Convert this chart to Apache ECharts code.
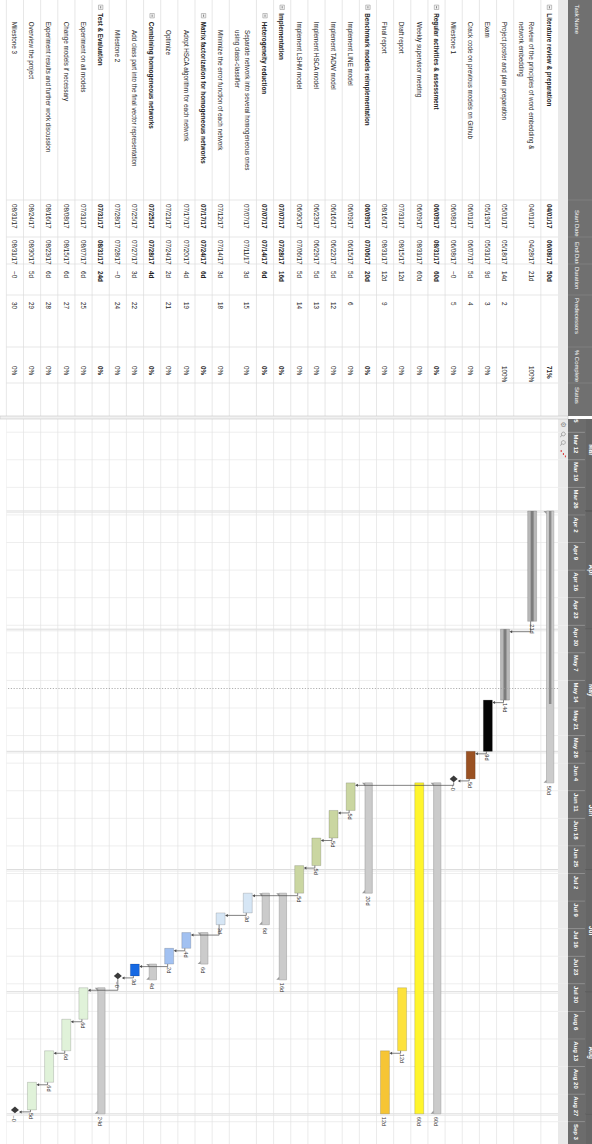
<!DOCTYPE html>
<html>
<head>
<meta charset="utf-8">
<script src="https://cdn.jsdelivr.net/npm/echarts@6/dist/echarts.min.js"></script>
<style>
  html, body { margin: 0; padding: 0; background: #fff; overflow: hidden; }
  #stage { position: absolute; left: 0; top: 0; width: 592px; height: 1144px; overflow: hidden; background: #fff; }
  /* the sheet is laid out landscape and turned a quarter clockwise */
  #chart { position: absolute; left: 0; top: 0; width: 1144px; height: 592px;
           transform-origin: 0 0; transform: translate(592px, 0) rotate(90deg); }
</style>
</head>
<body>
<div id="stage"><div id="chart"></div></div>
<script>
// ---------------- project data ----------------
const taskNames = [
  'Literature review & preparation',
  'Review of the principles of word embedding &\nnetwork embedding',
  'Project poster and plan preparation',
  'Exam',
  'Crack code on previous models on Github',
  'Milestone 1',
  'Regular activities & assessment',
  'Weekly supervisor meeting',
  'Draft report',
  'Final report',
  'Benchmark models reimplementation',
  'Implement LINE model',
  'Implement TADW model',
  'Implement HSCA model',
  'Implement LSHM model',
  'Implementation',
  'Heterogeneity reduction',
  'Separate network into several homogeneous ones\nusing class-classifier',
  'Minimize the error function of each network',
  'Matrix factorization for homogeneous networks',
  'Adopt HSCA algorithm for each network',
  'Optimize',
  'Combining homogeneous networks',
  'Add class part into the final vector representation',
  'Milestone 2',
  'Test & Evaluation',
  'Experiment on all models',
  'Change models if necessary',
  'Experiment results and further work discussion',
  'Overview the project',
  'Milestone 3'
];
const outlineLevels = [0,1,1,1,1,1,0,1,1,1,0,1,1,1,1,0,1,2,2,1,2,2,1,2,2,0,1,1,1,1,1];
const startDates = ['04/01/17','04/01/17','05/01/17','05/19/17','06/01/17','06/08/17','06/09/17','06/09/17','07/31/17','08/16/17',
  '06/09/17','06/09/17','06/16/17','06/23/17','06/30/17','07/07/17','07/07/17','07/07/17','07/12/17','07/17/17',
  '07/17/17','07/21/17','07/25/17','07/25/17','07/28/17','07/31/17','07/31/17','08/08/17','08/16/17','08/24/17','08/31/17'];
const endDates = ['06/08/17','04/28/17','05/18/17','05/31/17','06/07/17','06/08/17','08/31/17','08/31/17','08/15/17','08/31/17',
  '07/06/17','06/15/17','06/22/17','06/29/17','07/06/17','07/28/17','07/14/17','07/11/17','07/14/17','07/24/17',
  '07/20/17','07/24/17','07/28/17','07/27/17','07/28/17','08/31/17','08/07/17','08/15/17','08/23/17','08/30/17','08/31/17'];
const durations = ['50d','21d','14d','9d','5d','~0','60d','60d','12d','12d','20d','5d','5d','5d','5d','16d','6d','3d','3d','6d',
  '4d','2d','4d','3d','~0','24d','6d','6d','6d','5d','~0'];
const predecessors = ['','','2','3','4','5','','','','9','','6','12','13','14','','','15','18','','19','21','','22','24','','25','27','28','29','30'];
const percentComplete = [71,100,100,0,0,0,0,0,0,0,0,0,0,0,0,0,0,0,0,0,0,0,0,0,0,0,0,0,0,0,0];
const columnTitles = ['Task Name','Start Date','End Date','Duration','Predecessors','% Complete','Status'];
const weekLabels = ['Mar 5','Mar 12','Mar 19','Mar 26','Apr 2','Apr 9','Apr 16','Apr 23','Apr 30','May 7','May 14','May 21','May 28',
  'Jun 4','Jun 11','Jun 18','Jun 25','Jul 2','Jul 9','Jul 16','Jul 23','Jul 30','Aug 6','Aug 13','Aug 20','Aug 27','Sep 3'];
const monthLabels = ['Mar','Apr','May','Jun','Jul','Aug','Sep'];
const todayDate = '05/16/17';
const YEAR = 2017;

// bar colours per task (summary rows and milestones are styled separately)
const barFills = [null,'#b8b8b8','#b8b8b8','#040404','#9a5122',null,null,'#fff52c','#fde23c','#f6c535',
  null,'#cad6a1','#cad6a1','#cad6a1','#cad6a1',null,null,'#d6e6f5','#d6e6f5',null,
  '#a2c1f1','#a2c1f1',null,'#1669e3',null,null,'#e0f2d9','#e0f2d9','#e0f2d9','#e0f2d9',null];

// ---------------- layout ----------------
const W = 1144, H = 592;
const HEADER_H = 34, DARK_H = 24, MONTH_H = 7;
const SPLIT_X = 416, TABLE_W = 419;
const GANTT_X = 419, GANTT_W = W - GANTT_X;
const ROW_H = 17.15, EXTRA_LINE_H = 10;
const PX_PER_DAY = 3.94;
const DAY = 86400000;
const VIEW_START = Date.UTC(YEAR, 2, 8, 15, 36);
const VIEW_END = VIEW_START + GANTT_W / PX_PER_DAY * DAY;
// column edges, where each header title starts and where each cell value starts
const tableCols = [
  { x: 0,   titleX: 4.5, valueX: 0 },
  { x: 200, titleX: 210, valueX: 204 },
  { x: 237, titleX: 242, valueX: 240 },
  { x: 264, titleX: 267, valueX: 271 },
  { x: 295, titleX: 298, valueX: 302 },
  { x: 347, titleX: 350, valueX: 366 },
  { x: 383, titleX: 387, valueX: 386 }
];
const NAME_X0 = 13.3, NAME_STEP = 8.4;
const FONT_FAMILY = '"Liberation Sans", Arial, sans-serif';
const BODY_FONT = '6.3px ' + FONT_FAMILY;
const HEAD_FONT = '5.9px ' + FONT_FAMILY;
const SMALL_FONT = '5.6px ' + FONT_FAMILY;
const TEXT_COLOR = '#222';
const GRID_COLOR = '#dcdcdc';

// ---------------- derived helpers ----------------
const MONTHS = ['Jan','Feb','Mar','Apr','May','Jun','Jul','Aug','Sep','Oct','Nov','Dec'];
function parseDate(s) { const p = s.split('/').map(Number); return Date.UTC(2000 + p[2], p[0] - 1, p[1]); }
function parseWeek(s) { const p = s.split(' '); return Date.UTC(YEAR, MONTHS.indexOf(p[0]), +p[1]); }
function parseMonth(s) { return Date.UTC(YEAR, MONTHS.indexOf(s), 1); }

const isParent = outlineLevels.map((lv, i) => i + 1 < outlineLevels.length && outlineLevels[i + 1] > lv);
const isMilestone = durations.map(d => d === '~0');
const startTs = startDates.map(parseDate);
const endTs = endDates.map(s => parseDate(s) + DAY);
const rowLines = taskNames.map(n => n.split('\n').length);
const rowUnits = rowLines.map(c => 1 + (c - 1) * EXTRA_LINE_H / ROW_H);
const rowTops = [];
let acc = 0;
rowUnits.forEach(u => { rowTops.push(acc); acc += u; });
const totalUnits = acc;
const BODY_H = totalUnits * ROW_H;

function txt(text, x, y, font, fill, align, valign, extra) {
  return {
    type: 'text',
    style: Object.assign({
      text: text, x: x, y: y, font: font, fill: fill,
      textAlign: align, textVerticalAlign: valign, align: align, verticalAlign: valign
    }, extra || {})
  };
}
function seg(x1, y1, x2, y2, color, w) {
  return { type: 'line', shape: { x1, y1, x2, y2 }, style: { stroke: color, lineWidth: w } };
}

// ---------------- render functions ----------------
function renderTimeGrid(params, api) {
  const a = api.coord([api.value(0), 0]);
  const b = api.coord([api.value(0), totalUnits]);
  if (api.value(1) === 1) {
    return { type: 'group', children: [
      seg(a[0], a[1], b[0], b[1], '#d3d3d3', 0.8),
      seg(a[0] + 1.6, a[1], b[0] + 1.6, b[1], '#e2e2e2', 0.7)
    ]};
  }
  return seg(a[0], a[1], b[0], b[1], '#e6e6e6', 0.7);
}

function renderGanttRowLine(params, api) {
  const a = api.coord([VIEW_START, api.value(0)]);
  const b = api.coord([VIEW_END, api.value(0)]);
  return seg(a[0], a[1], b[0], b[1], '#e3e3e3', 0.7);
}

function renderBar(params, api) {
  const i = api.value(4);
  const s = api.coord([api.value(0), api.value(2)]);
  const e = api.coord([api.value(1), api.value(2)]);
  const top = s[1];
  const kids = [];
  let lx, ly;
  if (isMilestone[i]) {
    const cx = s[0], cy = top + ROW_H / 2;
    kids.push({ type: 'polygon', shape: { points: [[cx, cy - 4], [cx + 3.3, cy], [cx, cy + 4], [cx - 3.3, cy]] },
                style: { fill: '#3a3a3a' } });
    lx = cx + 5.5; ly = cy + 0.5;
  } else if (isParent[i]) {
    const y0 = top + 4.2, h = 7.3, x0 = s[0], x1 = e[0];
    kids.push({ type: 'rect', shape: { x: x0, y: y0, width: x1 - x0, height: h },
                style: { fill: '#cbcbcb', stroke: '#a2a2a2', lineWidth: 0.6 } });
    if (percentComplete[i] > 0) {
      kids.push({ type: 'rect', shape: { x: x0, y: y0 + 2.4, width: (x1 - x0) * percentComplete[i] / 100, height: 2.5 },
                  style: { fill: '#8b8b8b' } });
    }
    kids.push({ type: 'polygon', shape: { points: [[x0, y0 + h], [x0 + 3.2, y0 + h], [x0, y0 + h + 3]] },
                style: { fill: '#9a9a9a' } });
    kids.push({ type: 'polygon', shape: { points: [[x1 - 3.2, y0 + h], [x1, y0 + h], [x1, y0 + h + 3]] },
                style: { fill: '#9a9a9a' } });
    lx = x1 + 3; ly = y0 + h / 2 + 1;
  } else {
    const y0 = top + 4.2, h = 9, x0 = s[0], x1 = e[0];
    kids.push({ type: 'rect', shape: { x: x0, y: y0, width: x1 - x0, height: h },
                style: { fill: barFills[i], stroke: 'rgba(0,0,0,0.25)', lineWidth: 0.6 } });
    if (percentComplete[i] > 0) {
      kids.push({ type: 'rect', shape: { x: x0, y: y0 + 3, width: (x1 - x0) * percentComplete[i] / 100, height: 3 },
                  style: { fill: '#7d7d7d' } });
    }
    lx = x1 + 3; ly = y0 + h / 2 + 0.5;
  }
  kids.push(txt(durations[i], lx, ly, SMALL_FONT, '#333', 'left', 'middle'));
  return { type: 'group', children: kids };
}

function renderLink(params, api) {
  const pi = api.value(4), si = api.value(5);
  const pe = api.coord([api.value(0), api.value(1)]);
  const ss = api.coord([api.value(2), api.value(3)]);
  let xe, yp, xt, yt;
  if (isMilestone[pi]) { xe = pe[0] + 3.3; yp = pe[1] + ROW_H / 2; }
  else { xe = pe[0]; yp = pe[1] + 4.2 + 6; }
  if (isMilestone[si]) { xt = ss[0]; yt = ss[1] + ROW_H / 2 - 4; }
  else { xt = ss[0] + 2.5; yt = ss[1] + 4.2; }
  const xm = Math.max(xt, xe + 2);
  const col = '#4a4a4a';
  return { type: 'group', children: [
    { type: 'polyline', shape: { points: [[xe, yp], [xm, yp], [xm, yt - 1.5]] },
      style: { stroke: col, lineWidth: 0.7, fill: null } },
    { type: 'polygon', shape: { points: [[xm - 1.5, yt - 2.7], [xm + 1.5, yt - 2.7], [xm, yt]] },
      style: { fill: col } }
  ]};
}

function renderWeekCell(params, api) {
  const a = api.coord([api.value(0), MONTH_H]);
  const b = api.coord([api.value(1), DARK_H]);
  const c = api.coord([api.value(1), HEADER_H]);
  const label = weekLabels[api.value(2)];
  return { type: 'group', children: [
    { type: 'rect', shape: { x: a[0], y: a[1], width: b[0] - a[0], height: b[1] - a[1] }, style: { fill: '#6c6c6c' } },
    { type: 'rect', shape: { x: a[0], y: b[1], width: b[0] - a[0], height: c[1] - b[1] }, style: { fill: '#e9e9e9' } },
    seg(a[0], a[1], a[0], b[1], '#8d8d8d', 0.7),
    txt(label, a[0] + 2.2, (a[1] + b[1]) / 2 + 0.5, 'bold 6px ' + FONT_FAMILY, '#fff', 'left', 'middle')
  ]};
}

function renderMonthCell(params, api) {
  const a = api.coord([api.value(0), -10]);
  const b = api.coord([api.value(1), MONTH_H]);
  return { type: 'group', children: [
    { type: 'rect', shape: { x: a[0], y: a[1], width: b[0] - a[0], height: b[1] - a[1] }, style: { fill: '#666' } },
    seg(a[0], a[1], a[0], b[1], '#4e4e4e', 0.8),
    seg(a[0], b[1], b[0], b[1], '#7e7e7e', 0.6),
    txt(monthLabels[api.value(2)], (a[0] + b[0]) / 2, 0.5, 'bold 6.5px ' + FONT_FAMILY, '#fff', 'center', 'middle')
  ]};
}

function renderTableHeader(params, api) {
  const k = api.value(2);
  const a = api.coord([api.value(0), 0]);
  const b = api.coord([api.value(1), DARK_H]);
  const c = api.coord([api.value(1), HEADER_H]);
  const tx = api.coord([tableCols[k].titleX, 0])[0];
  const kids = [
    { type: 'rect', shape: { x: a[0], y: a[1], width: b[0] - a[0], height: b[1] - a[1] }, style: { fill: '#707070' } },
    { type: 'rect', shape: { x: a[0], y: b[1], width: b[0] - a[0], height: c[1] - b[1] }, style: { fill: '#e9e9e9' } },
    txt(columnTitles[k], tx, (a[1] + b[1]) / 2 + 3, HEAD_FONT, '#fff', 'left', 'middle')
  ];
  if (k > 0) kids.push(seg(a[0], a[1], a[0], b[1], '#8a8a8a', 0.6));
  return { type: 'group', children: kids };
}

function renderTableRow(params, api) {
  const i = api.value(3);
  const a = api.coord([0, api.value(1)]);
  const b = api.coord([SPLIT_X, api.value(2)]);
  const top = a[1], bottom = b[1];
  const parent = isParent[i];
  const font = (parent ? 'bold ' : '') + BODY_FONT;
  const kids = [seg(a[0], bottom, b[0], bottom, GRID_COLOR, 0.7)];
  tableCols.forEach((c, k) => {
    if (k === 0) return;
    const x = api.coord([c.x, 0])[0];
    kids.push(seg(x, top, x, bottom, GRID_COLOR, 0.7));
  });
  const nameX = api.coord([NAME_X0 + outlineLevels[i] * NAME_STEP, 0])[0];
  const midY = (top + bottom) / 2;
  if (parent) {
    const ix = nameX - 8.2, iy = top + ROW_H / 2 - 2.2;
    kids.push({ type: 'rect', shape: { x: ix, y: iy, width: 4.4, height: 4.4 },
                style: { fill: '#f3f3f3', stroke: '#9a9a9a', lineWidth: 0.6 } });
    kids.push(seg(ix + 1.1, iy + 2.2, ix + 3.3, iy + 2.2, '#555', 0.7));
  }
  kids.push(txt(taskNames[i], nameX, midY + 0.3, font, TEXT_COLOR, 'left', 'middle', { lineHeight: EXTRA_LINE_H }));
  const valueY = rowLines[i] > 1 ? top + 9.8 : midY + 0.3;
  const cells = [startDates[i], endDates[i], durations[i], predecessors[i], percentComplete[i] + '%'];
  cells.forEach((t, k) => {
    if (!t) return;
    const x = api.coord([tableCols[k + 1].valueX, 0])[0];
    kids.push(txt(t, x, valueY, font, TEXT_COLOR, 'left', 'middle'));
  });
  return { type: 'group', children: kids };
}

// ---------------- series data ----------------
const weekData = weekLabels.map((l, k) => [parseWeek(l), parseWeek(l) + 7 * DAY, k]);
const monthData = monthLabels.map((l, k) => {
  const t = parseMonth(l);
  const d = new Date(t);
  return [t, Date.UTC(d.getUTCFullYear(), d.getUTCMonth() + 1, 1), k];
});
const gridLineData = weekData.map(w => [w[0], 0]).concat(monthData.map(m => [m[0], 1]));
const rowLineData = rowTops.map((t, i) => [t + rowUnits[i]]);
const barData = taskNames.map((_, i) => [startTs[i], endTs[i], rowTops[i], rowTops[i] + rowUnits[i], i]);
const linkData = [];
predecessors.forEach((p, i) => {
  if (!p) return;
  const j = +p - 1;
  linkData.push([isMilestone[j] ? startTs[j] : endTs[j], rowTops[j], startTs[i], rowTops[i], j, i]);
});
const tableRowData = taskNames.map((_, i) => [0, rowTops[i], rowTops[i] + rowUnits[i], i]);
const tableHeadData = tableCols.map((c, k) => [c.x, k + 1 < tableCols.length ? tableCols[k + 1].x : SPLIT_X, k]);

// ---------------- chart ----------------
const chart = echarts.init(document.getElementById('chart'), null, { renderer: 'svg', width: W, height: H });

const hiddenTime = (g) => ({ gridIndex: g, type: 'time', min: VIEW_START, max: VIEW_END, show: false });
const hiddenVal = (g, min, max, inverse) => ({ gridIndex: g, type: 'value', min, max, inverse, show: false });

chart.setOption({
  animation: false,
  backgroundColor: '#fff',
  grid: [
    { left: GANTT_X, top: HEADER_H, width: GANTT_W, height: BODY_H },
    { left: GANTT_X, top: 0, width: GANTT_W, height: HEADER_H },
    { left: 0, top: HEADER_H, width: TABLE_W, height: BODY_H },
    { left: 0, top: 0, width: TABLE_W, height: HEADER_H }
  ],
  xAxis: [ hiddenTime(0), hiddenTime(1), hiddenVal(2, 0, TABLE_W, false), hiddenVal(3, 0, TABLE_W, false) ],
  yAxis: [ hiddenVal(0, 0, totalUnits, true), hiddenVal(1, 0, HEADER_H, true),
           hiddenVal(2, 0, totalUnits, true), hiddenVal(3, 0, HEADER_H, true) ],
  series: [
    { type: 'custom', name: 'timeGrid', xAxisIndex: 0, yAxisIndex: 0, clip: true, silent: true, z: 1,
      renderItem: renderTimeGrid, data: gridLineData },
    { type: 'custom', name: 'rowLines', xAxisIndex: 0, yAxisIndex: 0, clip: true, silent: true, z: 1,
      renderItem: renderGanttRowLine, data: rowLineData },
    { type: 'custom', name: 'tasks', xAxisIndex: 0, yAxisIndex: 0, clip: true, silent: true, z: 3,
      renderItem: renderBar, data: barData,
      markLine: { silent: true, symbol: ['none', 'none'], label: { show: false },
                  lineStyle: { color: '#9c9c9c', type: [1.2, 1.6], width: 0.8 },
                  data: [{ xAxis: parseDate(todayDate) }] } },
    { type: 'custom', name: 'dependencies', xAxisIndex: 0, yAxisIndex: 0, clip: true, silent: true, z: 4,
      renderItem: renderLink, data: linkData },
    { type: 'custom', name: 'months', xAxisIndex: 1, yAxisIndex: 1, clip: true, silent: true, z: 2,
      renderItem: renderMonthCell, data: monthData },
    { type: 'custom', name: 'weeks', xAxisIndex: 1, yAxisIndex: 1, clip: true, silent: true, z: 2,
      renderItem: renderWeekCell, data: weekData },
    { type: 'custom', name: 'tableRows', xAxisIndex: 2, yAxisIndex: 2, clip: false, silent: true, z: 2,
      renderItem: renderTableRow, data: tableRowData },
    { type: 'custom', name: 'tableHeader', xAxisIndex: 3, yAxisIndex: 3, clip: false, silent: true, z: 2,
      renderItem: renderTableHeader, data: tableHeadData }
  ],
  graphic: [
    // splitter between sheet and timeline
    { type: 'rect', z: 50, silent: true, shape: { x: SPLIT_X, y: DARK_H, width: TABLE_W - SPLIT_X, height: H - DARK_H },
      style: { fill: '#f1f1f1', stroke: '#c6c6c6', lineWidth: 0.6 } },
    // timeline toolbar: settings, zoom in, zoom out, critical path
    { type: 'text', z: 50, silent: true, style: { text: '\u2699', x: 421.5, y: 29.3, font: '7px "DejaVu Sans"', fill: '#8a8a8a', verticalAlign: 'middle' } },
    { type: 'circle', z: 50, silent: true, shape: { cx: 434, cy: 28.6, r: 1.9 }, style: { fill: 'none', stroke: '#8a8a8a', lineWidth: 0.7 } },
    { type: 'line', z: 50, silent: true, shape: { x1: 435.3, y1: 30, x2: 437, y2: 31.8 }, style: { stroke: '#8a8a8a', lineWidth: 0.8 } },
    { type: 'circle', z: 50, silent: true, shape: { cx: 442.5, cy: 28.6, r: 1.9 }, style: { fill: 'none', stroke: '#8a8a8a', lineWidth: 0.7 } },
    { type: 'line', z: 50, silent: true, shape: { x1: 443.8, y1: 30, x2: 445.5, y2: 31.8 }, style: { stroke: '#8a8a8a', lineWidth: 0.8 } },
    { type: 'line', z: 50, silent: true, shape: { x1: 450, y1: 30.8, x2: 452, y2: 30.8 }, style: { stroke: '#d33', lineWidth: 1 } },
    { type: 'line', z: 50, silent: true, shape: { x1: 453, y1: 28.6, x2: 455, y2: 28.6 }, style: { stroke: '#d33', lineWidth: 1 } },
    { type: 'line', z: 50, silent: true, shape: { x1: 455.5, y1: 26.6, x2: 457.3, y2: 26.6 }, style: { stroke: '#d33', lineWidth: 1 } }
  ]
});
</script>
</body>
</html>
